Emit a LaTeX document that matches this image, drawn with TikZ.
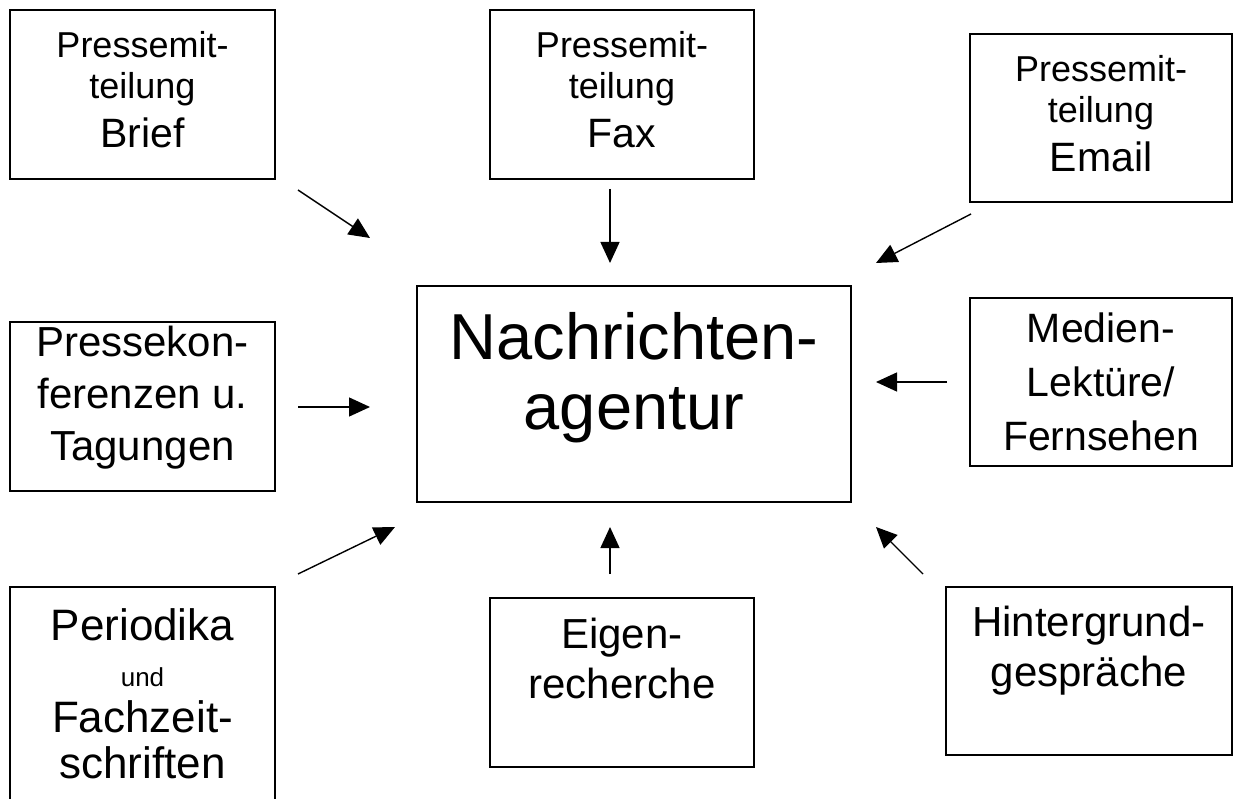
\documentclass[tikz,border=0pt]{standalone}
\usepackage{fontspec}
\setmainfont{Liberation Sans}
\usetikzlibrary{arrows.meta}

\begin{document}
\begin{tikzpicture}[%
    x=1pt,
    y=-1pt,
    ->,
    >={Triangle[length=21pt,width=19pt]},
    line width=1.4pt,
    quelle/.style={%
      rectangle,
      draw,
      line width=1.6pt,
      align=center,
      inner sep=0pt,
      minimum width=265pt,
      minimum height=169pt,
      font=\fontsize{42}{50}\selectfont},
    pm/.style={%
      quelle,
      text depth=10pt,
      font=\fontsize{36}{41}\selectfont}
    ]
    \useasboundingbox (0,0) rectangle (1234,799);
    \clip (0,0) rectangle (1234,799);

    \node[pm] (brief) at (142.5,94.5) {Pressemit-\\teilung\\[8pt]{\fontsize{41}{41}\selectfont Brief}};
    \node[pm,minimum width=264pt] (fax) at (622,94.5) {Pressemit-\\teilung\\[8pt]{\fontsize{41}{41}\selectfont Fax}};
    \node[pm,minimum width=262pt,minimum height=168pt] (email) at (1101,118) {Pressemit-\\teilung\\[8pt]{\fontsize{41}{41}\selectfont Email}};
    \node[quelle,text depth=27pt,font=\fontsize{42}{52}\selectfont] (konferenz) at (142.5,406.5) {Pressekon-\\ferenzen u.\\Tagungen};
    \node[quelle,minimum width=434pt,minimum height=216pt,text depth=46pt,font=\fontsize{65}{70}\selectfont] (agentur) at (634,394) {Nachrichten-\\agentur};
    \node[quelle,minimum width=262pt,minimum height=168pt,font=\fontsize{41}{54}\selectfont] (medien) at (1101,382) {Medien-\\Lektüre/\\Fernsehen};
    \node[quelle,minimum height=226pt,text depth=12pt,font=\fontsize{44}{46}\selectfont] (periodika) at (142.5,700) {Periodika\\{\fontsize{26}{30}\selectfont und}\\Fachzeit-\\schriften};
    \node[quelle,minimum width=264pt,text depth=48pt] (eigen) at (622,682.5) {Eigen-\\recherche};
    \node[quelle,minimum width=286pt,minimum height=168pt,text depth=49pt] (hintergrund) at (1089,671) {Hintergrund-\\gespräche};

    \coordinate (p1) at (298,190);  \coordinate (q1) at (370,238);
    \coordinate (p2) at (610,189);  \coordinate (q2) at (610,263);
    \coordinate (p3) at (971,214);  \coordinate (q3) at (876,263);
    \coordinate (p4) at (298,407);  \coordinate (q4) at (370,407);
    \coordinate (p5) at (947,382);  \coordinate (q5) at (876,382);
    \coordinate (p6) at (298,574);  \coordinate (q6) at (395,527);
    \coordinate (p7) at (610,574);  \coordinate (q7) at (610,527);
    \coordinate (p8) at (923,574);  \coordinate (q8) at (876,527);
    \path (p1) edge (q1)
          (p2) edge (q2)
          (p3) edge (q3)
          (p4) edge (q4)
          (p5) edge (q5)
          (p6) edge (q6)
          (p7) edge (q7)
          (p8) edge (q8);
  \end{tikzpicture}
\end{document}
